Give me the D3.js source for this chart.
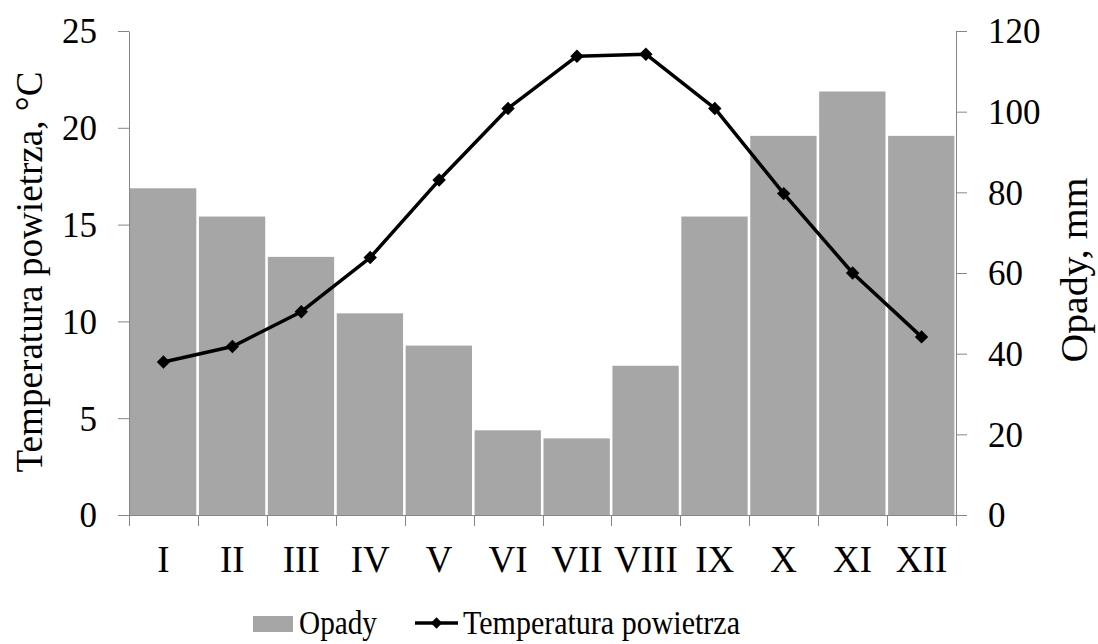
<!DOCTYPE html>
<html>
<head>
<meta charset="utf-8">
<script src="https://cdn.jsdelivr.net/npm/d3@7/dist/d3.min.js"></script>
<style>
  html, body { margin: 0; padding: 0; background: #fff; }
  svg text { font-family: "Liberation Serif", "Times New Roman", serif; fill: #000; }
</style>
</head>
<body>
<svg id="chart" width="1098" height="644"></svg>
<script>
// ---- data ----
const months = ["I","II","III","IV","V","VI","VII","VIII","IX","X","XI","XII"];
const precipitation = [81, 74, 64, 50, 42, 21, 19, 37, 74, 94, 105, 94];     // Opady, mm
const temperature = [7.9, 8.7, 10.5, 13.3, 17.3, 21.0, 23.7, 23.8, 21.0, 16.6, 12.5, 9.2]; // °C
const tempTicks = [0, 5, 10, 15, 20, 25];
const precTicks = [0, 20, 40, 60, 80, 100, 120];

(function () {
const svg = d3.select("#chart");
const mL = 129, mR = 956, mT = 31, mB = 515;
const axisColor = "#868686";
const barColor = "#a6a6a6";

const x = d3.scaleBand().domain(months).range([mL, mR]).padding(0);
const yT = d3.scaleLinear().domain([0, 25]).range([mB, mT]);
const yP = d3.scaleLinear().domain([0, 120]).range([mB, mT]);

// bars
svg.append("g").selectAll("rect").data(months).join("rect")
  .attr("x", d => x(d) + 1)
  .attr("width", x.bandwidth() - 2.6)
  .attr("y", (d, i) => yP(precipitation[i]))
  .attr("height", (d, i) => mB - yP(precipitation[i]))
  .attr("fill", barColor);

// left axis
const gL = svg.append("g").attr("transform", `translate(${mL},0)`)
  .call(d3.axisLeft(yT).tickValues(tempTicks).tickSize(11).tickPadding(21).tickSizeOuter(0));
gL.selectAll("text").attr("font-size", 35).attr("dy", "0.34em");

// right axis
const gR = svg.append("g").attr("transform", `translate(${mR},0)`)
  .call(d3.axisRight(yP).tickValues(precTicks).tickSize(11).tickPadding(21).tickSizeOuter(0));
gR.selectAll("text").attr("font-size", 35).attr("dy", "0.34em");

// bottom axis: ticks at band boundaries
const boundaries = months.map(m => x(m)).concat([mR]);
const gB = svg.append("g");
gB.append("line").attr("x1", mL - 11).attr("x2", mR + 11)
  .attr("y1", mB + 0.5).attr("y2", mB + 0.5);
gB.selectAll("line.tk").data(boundaries).join("line").attr("class", "tk")
  .attr("x1", d => Math.round(d) + 0.5).attr("x2", d => Math.round(d) + 0.5)
  .attr("y1", mB).attr("y2", mB + 11);
gB.selectAll("text").data(months).join("text")
  .attr("x", d => x(d) + x.bandwidth() / 2)
  .attr("y", 572)
  .attr("text-anchor", "middle")
  .attr("font-size", 37)
  .text(d => d);

svg.selectAll(".domain, .tick line").attr("stroke", axisColor);
gB.selectAll("line").attr("stroke", axisColor).attr("stroke-width", 1);
svg.selectAll(".tick text").attr("font-family", "Liberation Serif").attr("fill", "#000");

// temperature line
const line = d3.line()
  .x((d, i) => x(months[i]) + x.bandwidth() / 2)
  .y(d => yT(d));
svg.append("path").datum(temperature)
  .attr("d", line).attr("fill", "none")
  .attr("stroke", "#000").attr("stroke-width", 3.5).attr("stroke-linejoin", "round");

const diamond = d3.symbol().type(d3.symbolSquare).size(90);
svg.append("g").selectAll("path").data(temperature).join("path")
  .attr("d", diamond)
  .attr("transform", (d, i) => `translate(${x(months[i]) + x.bandwidth() / 2},${yT(d)}) rotate(45)`)
  .attr("fill", "#000");

// axis titles
svg.append("text")
  .attr("transform", `translate(42,272) rotate(-90)`)
  .attr("text-anchor", "middle").attr("font-size", 38)
  .attr("textLength", 401).attr("lengthAdjust", "spacingAndGlyphs")
  .text("Temperatura powietrza, °C");
svg.append("text")
  .attr("transform", `translate(1087,270) rotate(-90)`)
  .attr("text-anchor", "middle").attr("font-size", 38)
  .attr("textLength", 185).attr("lengthAdjust", "spacingAndGlyphs")
  .text("Opady, mm");

// legend
const lg = svg.append("g");
lg.append("rect").attr("x", 253).attr("y", 616).attr("width", 40).attr("height", 16).attr("fill", barColor);
lg.append("text").attr("x", 299).attr("y", 634).attr("font-size", 34)
  .attr("textLength", 78).attr("lengthAdjust", "spacingAndGlyphs").text("Opady");
lg.append("line").attr("x1", 415).attr("x2", 458).attr("y1", 623).attr("y2", 623)
  .attr("stroke", "#000").attr("stroke-width", 3.5);
lg.append("path").attr("d", d3.symbol().type(d3.symbolSquare).size(64)())
  .attr("transform", "translate(436.5,623) rotate(45)").attr("fill", "#000");
lg.append("text").attr("x", 463).attr("y", 634).attr("font-size", 34)
  .attr("textLength", 277).attr("lengthAdjust", "spacingAndGlyphs").text("Temperatura powietrza");
})();
</script>
</body>
</html>
